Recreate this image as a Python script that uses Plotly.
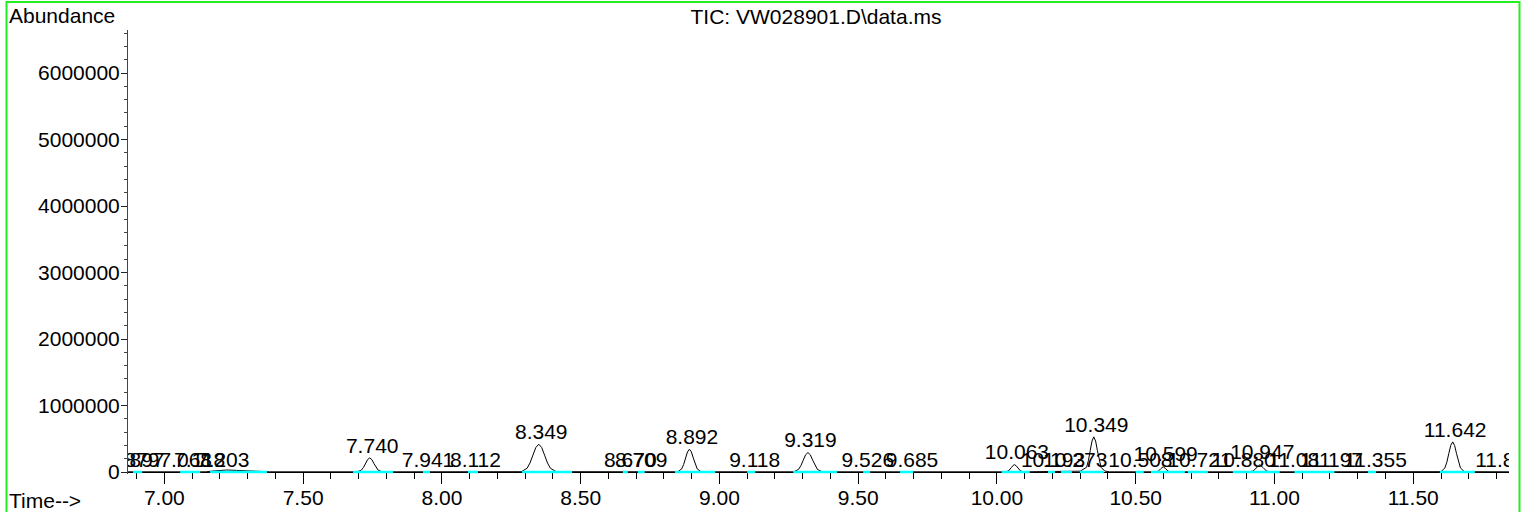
import plotly.graph_objects as go

# ---- data ----
tic_time = [
    6.869, 6.950, 7.050, 7.150, 7.175, 7.200, 7.225, 7.260, 7.300, 7.340, 7.380,
    7.695, 7.710, 7.7175, 7.725, 7.7325, 7.740, 7.7475, 7.755, 7.7625, 7.770, 7.785,
    8.286, 8.307, 8.3175, 8.328, 8.3385, 8.349, 8.3595, 8.370, 8.3805, 8.391, 8.412,
    8.850, 8.864, 8.871, 8.878, 8.885, 8.892, 8.899, 8.906, 8.913, 8.920, 8.934,
    9.268, 9.285, 9.2935, 9.302, 9.3105, 9.319, 9.3275, 9.336, 9.3445, 9.353, 9.370,
    10.030, 10.041, 10.0465, 10.052, 10.0575, 10.063, 10.0685, 10.074, 10.0795, 10.085, 10.096,
    10.250, 10.300, 10.323, 10.3295, 10.336, 10.3425, 10.349, 10.3555, 10.362, 10.3685, 10.375, 10.388, 10.405,
    10.572, 10.581, 10.590, 10.599, 10.608, 10.617, 10.626,
    10.911, 10.923, 10.935, 10.947, 10.959, 10.971, 10.983,
    11.600, 11.614, 11.621, 11.628, 11.635, 11.642, 11.649, 11.656, 11.663, 11.670, 11.684,
    11.845,
]
tic_abundance = [
    3000, 3000, 3000, 3000, 15000, 28000, 30000, 24000, 14000, 6000, 3000,
    3000, 28600, 68900, 128700, 187000, 212000, 187000, 128700, 68900, 28600, 3000,
    4600, 56400, 135900, 253700, 368700, 418000, 368700, 253700, 135900, 56400, 4600,
    3800, 46300, 111500, 208200, 302500, 343000, 302500, 208200, 111500, 46300, 3800,
    3200, 39600, 95200, 177900, 258400, 293000, 258400, 177900, 95200, 39600, 3200,
    3000, 14900, 35800, 66800, 97000, 110000, 97000, 66800, 35800, 14900, 3000,
    3000, 12000, 71300, 171600, 320500, 465700, 528000, 465700, 320500, 171600, 71300, 15000, 3000,
    3000, 10800, 48600, 80000, 48600, 10800, 3000,
    3000, 14900, 66800, 110000, 66800, 14900, 3000,
    5000, 61200, 147200, 275000, 399500, 453000, 399500, 275000, 147200, 61200, 5000,
    3000,
]

peak_labels = ["6.879", "6.897", "7.068", "7.118", "7.203", "7.740", "7.941", "8.112",
               "8.349", "8.670", "8.709", "8.892", "9.118", "9.319", "9.526", "9.685",
               "10.063", "10.193", "10.273", "10.349", "10.508", "10.599", "10.721",
               "10.880", "10.947", "11.081", "11.197", "11.355", "11.642", "11.827"]
peak_rt = [6.879, 6.897, 7.068, 7.118, 7.203, 7.740, 7.941, 8.112,
           8.349, 8.670, 8.709, 8.892, 9.118, 9.319, 9.526, 9.685,
           10.063, 10.193, 10.273, 10.349, 10.508, 10.599, 10.721,
           10.880, 10.947, 11.081, 11.197, 11.355, 11.642, 11.827]
peak_height = [3000, 3000, 3000, 3000, 3000, 212000, 3000, 3000,
               418000, 3000, 3000, 343000, 3000, 293000, 3000, 3000,
               110000, 3000, 3000, 528000, 3000, 80000, 3000,
               3000, 110000, 3000, 3000, 3000, 453000, 3000]

baseline_start = [6.887, 7.057, 7.165, 7.680, 7.932, 8.094, 8.289, 8.652, 8.706, 8.840,
                  9.100, 9.266, 9.518, 9.651, 10.017, 10.184, 10.231, 10.299, 10.500,
                  10.555, 10.688, 10.850, 11.072, 11.337, 11.596]
baseline_end = [6.920, 7.129, 7.370, 7.824, 7.957, 8.130, 8.469, 8.670, 8.731, 8.985,
                9.129, 9.424, 9.543, 9.698, 10.118, 10.209, 10.270, 10.385, 10.529,
                10.677, 10.760, 11.019, 11.216, 11.366, 11.722]

x_range = [6.869, 11.845]
y_top = 6646600

# ---- figure geometry ----
FONT = "Liberation Sans, Arial, sans-serif"
FS = 21
W, H = 1526, 512
ML, MR, MT = 128, 17, 30
AXIS_Y = 472          # pixel row of the time axis
BELOW = 2             # plot area continues 2 px below the time axis
MB = H - AXIS_Y - BELOW
PW, PH = W - ML - MR, H - MT - MB
units_per_px = y_top / (AXIS_Y - MT)
y_range = [-BELOW * units_per_px, y_top]


def px_x(p):
    return (p - ML) / PW


def px_y(p):
    return (H - MB - p) / PH


px_per_min = PW / (x_range[1] - x_range[0])
label_dx = 2.5 / px_per_min

fig = go.Figure()

fig.add_trace(go.Scatter(
    x=tic_time, y=tic_abundance, mode="lines",
    line=dict(color="black", width=1), hoverinfo="skip",
))

bx, by = [], []
for s, e in zip(baseline_start, baseline_end):
    bx += [s, e, None]
    by += [0, 0, None]
fig.add_trace(go.Scatter(
    x=bx, y=by, mode="lines", line=dict(color="#00FFFF", width=2.5),
    hoverinfo="skip",
))

fig.add_trace(go.Scatter(
    x=[t + label_dx for t in peak_rt], y=peak_height, mode="text",
    text=peak_labels, textposition="top center",
    textfont=dict(family=FONT, size=FS, color="black"),
    cliponaxis=True, hoverinfo="skip",
))

fig.update_layout(
    width=W, height=H,
    margin=dict(l=ML, r=MR, t=MT, b=MB, pad=0, autoexpand=False),
    paper_bgcolor="white", plot_bgcolor="white",
    showlegend=False,
    font=dict(family=FONT, size=FS, color="black"),
    title=dict(text="TIC: VW028901.D\\data.ms", x=816 / W, xref="container",
               y=1 - 17 / H, yref="container", xanchor="center", yanchor="middle",
               font=dict(family=FONT, size=FS, color="black")),
    xaxis=dict(
        range=x_range, showline=True, linecolor="black", linewidth=1,
        anchor="free", position=px_y(AXIS_Y),
        ticks="outside", ticklen=11, tickcolor="black", tickwidth=1,
        tick0=7, dtick=0.5, tickformat=".2f", showgrid=False, zeroline=False,
        minor=dict(ticks="outside", ticklen=6, tick0=7, dtick=0.1,
                   tickcolor="black", showgrid=False),
        tickfont=dict(family=FONT, size=FS, color="black"),
        ticklabelstandoff=-4,
        layer="below traces", automargin=False,
    ),
    yaxis=dict(
        range=y_range, showline=True, linecolor="#444444", linewidth=1,
        ticks="outside", ticklen=6, tickcolor="#222222", tickwidth=1,
        tick0=0, dtick=1000000, tickformat="d", showgrid=False, zeroline=False,
        minor=dict(ticks="outside", ticklen=3, tick0=0, dtick=200000,
                   tickcolor="#444444", showgrid=False),
        tickfont=dict(family=FONT, size=FS, color="black"),
        ticklabelstandoff=-3,
        layer="below traces", automargin=False,
    ),
    annotations=[
        dict(text="Abundance", xref="paper", yref="paper", x=px_x(7.3), y=px_y(15),
             xanchor="left", yanchor="middle", showarrow=False,
             font=dict(family=FONT, size=FS, color="black")),
        dict(text="Time-->", xref="paper", yref="paper", x=px_x(7.3), y=px_y(500),
             xanchor="left", yanchor="middle", showarrow=False,
             font=dict(family=FONT, size=FS, color="black")),
    ],
    shapes=[
        dict(type="rect", xref="paper", yref="paper",
             x0=px_x(6.5), x1=px_x(1519.5), y0=px_y(530), y1=px_y(2),
             line=dict(color="#22EE22", width=2), fillcolor="rgba(0,0,0,0)",
             layer="above"),
    ],
)

fig.write_html("out.html",
               config={"displayModeBar": False, "staticPlot": True},
               post_script="document.body.style.margin='0px';document.body.style.overflow='hidden';")
